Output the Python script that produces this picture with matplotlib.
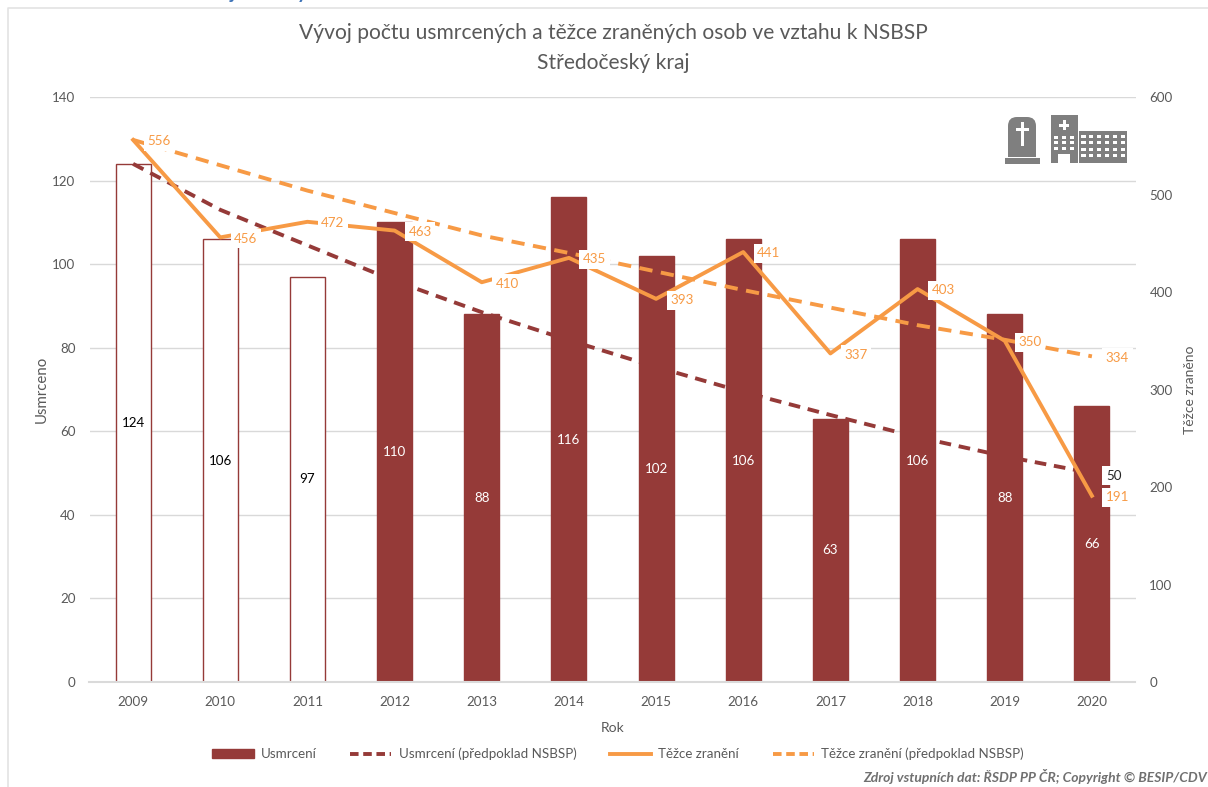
import numpy as np
import matplotlib
matplotlib.use('Agg')
import matplotlib.pyplot as plt
from matplotlib.patches import Rectangle, FancyBboxPatch, Patch
from matplotlib.lines import Line2D

plt.rcParams['font.family'] = ['Lato', 'DejaVu Sans']

years = ['2009', '2010', '2011', '2012', '2013', '2014', '2015', '2016', '2017', '2018', '2019', '2020']
usmrceni = [124, 106, 97, 110, 88, 116, 102, 106, 63, 106, 88, 66]
usmrceni_nsbsp = [124, 113, 104.5, 96, 88.5, 81.8, 75.4, 69.4, 63.9, 58.6, 54, 50]
zraneni = [556, 456, 472, 463, 410, 435, 393, 441, 337, 403, 350, 191]
zraneni_nsbsp = [556, 530, 504, 481, 458, 440, 421, 402, 384, 366, 351, 334]
left_ticks = [0, 20, 40, 60, 80, 100, 120, 140]
right_ticks = [0, 100, 200, 300, 400, 500, 600]

DARK = '#953A38'
ORANGE = '#F79A45'
GRAY = '#595959'
ICON = '#7F7F7F'

W, H = 1208, 787
fig = plt.figure(figsize=(W / 100, H / 100), dpi=100, facecolor='white')
ax = fig.add_axes([89.5 / W, 1 - 682 / H, 1046 / W, 585 / H])
x = np.arange(len(years))

bars = ax.bar(x, usmrceni, width=0.4, color=DARK, edgecolor=DARK, linewidth=1, zorder=2)
for b in bars[:3]:
    b.set_facecolor('white')
ax.plot(x, usmrceni_nsbsp, color=DARK, lw=2.8, dashes=(3, 2), zorder=3)
ax.set_xlim(-0.5, 11.5)
ax.set_ylim(0, 140)
ax.set_yticks(left_ticks)
ax.set_xticks(x, years)
ax.grid(axis='y', color='#D9D9D9', lw=1, zorder=0)
ax.set_axisbelow(True)
ax.tick_params(length=0, labelsize=9.6, labelcolor=GRAY, pad=10)
ax.tick_params(axis='y', pad=10)
for s in ax.spines.values():
    s.set_visible(False)
ax.spines['bottom'].set_visible(True)
ax.spines['bottom'].set_color('#DADADA')
ax.spines['bottom'].set_linewidth(1.5)
ax.set_xlabel('Rok', fontsize=10, color=GRAY, labelpad=10)
ax.set_ylabel('Usmrceno', fontsize=10.8, color=GRAY, labelpad=2.5)

for i, v in enumerate(usmrceni):
    ax.text(i, v / 2, str(v), ha='center', va='center', fontsize=9.6,
            color='black' if i < 3 else 'white', zorder=4)

ax2 = ax.twinx()
ax2.set_zorder(ax.get_zorder() + 1)
ax2.patch.set_visible(False)
ax2.plot(x, zraneni_nsbsp, color=ORANGE, lw=2.8, dashes=(3.4, 2.2), zorder=3)
ax2.plot(x, zraneni, color=ORANGE, lw=2.8, zorder=3)
ax2.set_ylim(0, 600)
ax2.set_yticks(right_ticks)
ax2.tick_params(length=0, labelsize=9.6, labelcolor=GRAY, pad=10)
for s in ax2.spines.values():
    s.set_visible(False)
ax2.set_ylabel('Těžce zraněno', fontsize=10, color=GRAY, labelpad=8)

box = dict(facecolor='white', edgecolor='none', pad=2.5)
for i, v in enumerate(zraneni):
    ax2.annotate(str(v), (i, v), xytext=(10, -1), textcoords='offset points', ha='left', va='center',
                 fontsize=9.6, color=ORANGE, bbox=box, zorder=5)
ax2.annotate(str(zraneni_nsbsp[-1]), (11, zraneni_nsbsp[-1]), xytext=(10, -1), textcoords='offset points',
             ha='left', va='center', fontsize=9.6, color=ORANGE, bbox=box, zorder=5)
ax2.annotate(str(int(usmrceni_nsbsp[-1])), (11, usmrceni_nsbsp[-1] * 600 / 140), xytext=(10, -2),
             textcoords='offset points', ha='left', va='center', fontsize=9.6, color='#262626', bbox=box, zorder=5)

# overlay in pixel coordinates for title, frame, icons
ov = fig.add_axes([0, 0, 1, 1], zorder=10)
ov.set_xlim(0, W)
ov.set_ylim(H, 0)
ov.axis('off')
ov.patch.set_visible(False)

ov.plot([8, 8, W], [H, 8, 8], color='#E3E3E3', lw=1.2)
ov.text(613, 33, 'Vývoj počtu usmrcených a těžce zraněných osob ve vztahu k NSBSP', ha='center', va='center',
        fontsize=15.1, color=GRAY)
ov.text(613, 63, 'Středočeský kraj', ha='center', va='center', fontsize=15.1, color=GRAY)
ov.text(1207, 776, 'Zdroj vstupních dat: ŘSDP PP ČR; Copyright © BESIP/CDV', ha='right', va='center',
        fontsize=10, color='#707070', style='italic', fontweight='bold')

# cut off descenders of the heading above the chart
ov.text(232, -1, 'j', ha='center', va='baseline', fontsize=14, color='#3F74B8', fontweight='bold')
ov.text(302, -1, 'y', ha='center', va='baseline', fontsize=14, color='#3F74B8', fontweight='bold')

# hrob
ov.add_patch(Rectangle((1005, 158), 35, 6, color=ICON, lw=0))
stone = FancyBboxPatch((1008, 117), 28, 60, boxstyle='round,pad=0,rounding_size=9', color=ICON, lw=0)
ov.add_patch(stone)
stone.set_clip_path(Rectangle((1000, 110), 50, 47, transform=ov.transData))
ov.add_patch(Rectangle((1021, 122), 3, 24, color='white', lw=0))
ov.add_patch(Rectangle((1016, 128), 13, 3, color='white', lw=0))

# nemocnice
ov.add_patch(Rectangle((1050.5, 115), 27.5, 48, color=ICON, lw=0))
ov.add_patch(Rectangle((1079, 131), 48, 32, color=ICON, lw=0))
ov.add_patch(Rectangle((1058, 154), 12, 9, color='white', lw=0))
ov.add_patch(Rectangle((1062.5, 120), 3, 10, color='white', lw=0))
ov.add_patch(Rectangle((1059, 123.5), 10, 3, color='white', lw=0))
for c in range(3):
    for r in range(3):
        ov.add_patch(Rectangle((1054 + c * 8, 135.5 + r * 5.5), 4, 3, color='white', lw=0))
for c in range(6):
    for r in range(4):
        ov.add_patch(Rectangle((1081 + c * 7.9, 135 + r * 6.3), 4.5, 3.2, color='white', lw=0))

handles = [Patch(color=DARK), Line2D([], [], color=DARK, lw=2.8, dashes=(2.2, 1.2)),
           Line2D([], [], color=ORANGE, lw=2.8), Line2D([], [], color=ORANGE, lw=2.8, dashes=(2.2, 1.2))]
labels = ['Usmrcení', 'Usmrcení (předpoklad NSBSP)', 'Těžce zranění', 'Těžce zranění (předpoklad NSBSP)']
fig.legend(handles, labels, loc='center', bbox_to_anchor=(618 / W, 1 - 754 / H), ncol=4, frameon=False,
           fontsize=9.6, labelcolor=GRAY, handlelength=3.1, handletextpad=0.55, columnspacing=2.5)

fig.savefig('out.png', dpi=100)
